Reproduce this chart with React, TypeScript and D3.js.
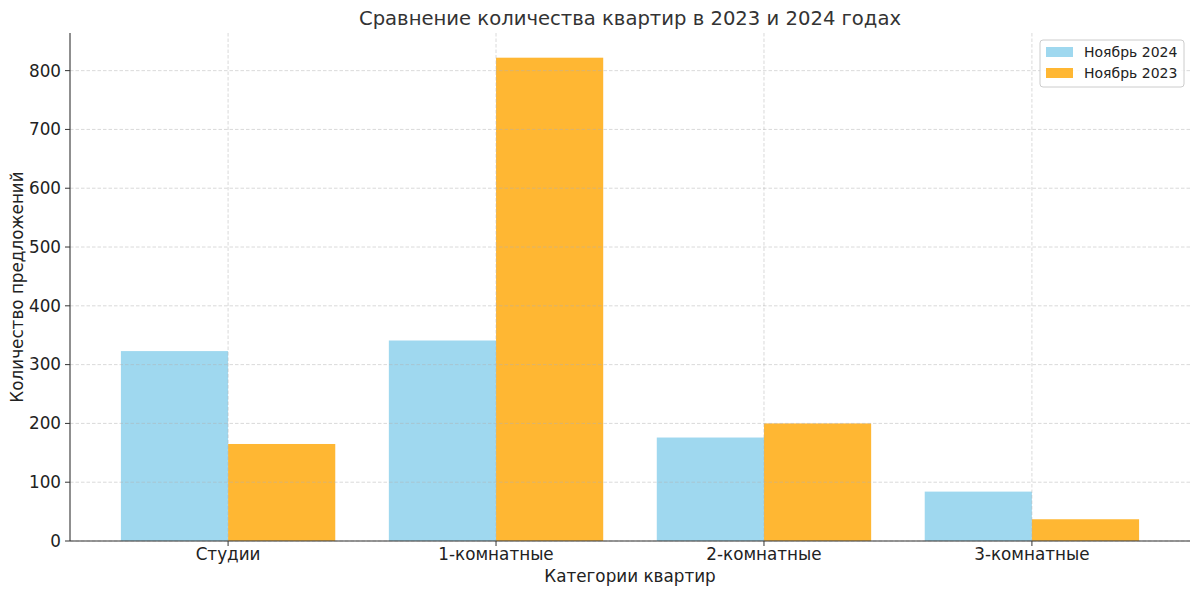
import React from "react";
import * as d3 from "d3";

const categories = ["Студии", "1-комнатные", "2-комнатные", "3-комнатные"];
const nov2024 = [323, 341, 176, 84];
const nov2023 = [165, 822, 200, 37];
const yTicks = [0, 100, 200, 300, 400, 500, 600, 700, 800];
const seriesNames = ["Ноябрь 2024", "Ноябрь 2023"];
const seriesColors = ["#87CEEB", "#FFA500"];

const W = 1200, H = 595;
const M = { left: 70, right: 1190, top: 33, bottom: 541 };
const FONT = "DejaVu Sans, sans-serif";

export default function App() {
  const barW = 0.4;
  const x = d3.scaleLinear().domain([-0.59, 3.59]).range([M.left, M.right]);
  const y = d3.scaleLinear().domain([0, 864]).range([M.bottom, M.top]);
  const series = [nov2024, nov2023];
  const axisColor = "#333";
  return (
    <svg width={W} height={H} style={{ position: "absolute", left: 0, top: 0, background: "#fff" }} fontFamily={FONT}>
      {series.map((vals, s) =>
        vals.map((v, i) => {
          const x0 = s === 0 ? x(i - barW) : x(i);
          const x1 = s === 0 ? x(i) : x(i + barW);
          return (
            <rect key={`${s}-${i}`} x={x0} y={y(v)} width={x1 - x0} height={y(0) - y(v)}
              fill={seriesColors[s]} fillOpacity={0.8} />
          );
        })
      )}
      {/* grid on top */}
      <g stroke="#b0b0b0" strokeOpacity={0.6} strokeDasharray="3.5,2" strokeWidth={0.8}>
        {yTicks.map((t) => (
          <line key={`gy${t}`} x1={M.left} x2={M.right} y1={y(t)} y2={y(t)} />
        ))}
        {categories.map((c, i) => (
          <line key={`gx${i}`} x1={x(i)} x2={x(i)} y1={M.top} y2={M.bottom} />
        ))}
      </g>
      {/* axes */}
      <line x1={M.left} x2={M.left} y1={M.top} y2={M.bottom} stroke={axisColor} strokeWidth={1.1} />
      <line x1={M.left} x2={M.right} y1={M.bottom} y2={M.bottom} stroke={axisColor} strokeWidth={1.1} />
      {yTicks.map((t) => (
        <g key={`ty${t}`}>
          <line x1={M.left - 5} x2={M.left} y1={y(t)} y2={y(t)} stroke={axisColor} strokeWidth={1} />
          <text x={M.left - 9} y={y(t)} dy="0.35em" textAnchor="end" fontSize={16.8} fill="#222">{t}</text>
        </g>
      ))}
      {categories.map((c, i) => (
        <g key={`tx${i}`}>
          <line x1={x(i)} x2={x(i)} y1={M.bottom} y2={M.bottom + 5} stroke={axisColor} strokeWidth={1} />
          <text x={x(i)} y={M.bottom + 19} textAnchor="middle" fontSize={16.8} fill="#222">{c}</text>
        </g>
      ))}
      <text x={(M.left + M.right) / 2} y={582} textAnchor="middle" fontSize={16.8} fill="#222">Категории квартир</text>
      <text transform={`translate(23,${(M.top + M.bottom) / 2}) rotate(-90)`} textAnchor="middle" fontSize={16.8} fill="#222">Количество предложений</text>
      <text x={(M.left + M.right) / 2} y={25} textAnchor="middle" fontSize={19.6} fill="#333">Сравнение количества квартир в 2023 и 2024 годах</text>
      {/* legend */}
      <g>
        <rect x={1040} y={40} width={144} height={47} rx={3} fill="#fff" fillOpacity={0.85} stroke="#ccc" strokeWidth={1} />
        {seriesNames.map((n, s) => (
          <g key={n}>
            <rect x={1046} y={47 + s * 21} width={27} height={10} fill={seriesColors[s]} fillOpacity={0.8} />
            <text x={1084} y={52 + s * 21} dy="0.35em" fontSize={14} fill="#222">{n}</text>
          </g>
        ))}
      </g>
    </svg>
  );
}
